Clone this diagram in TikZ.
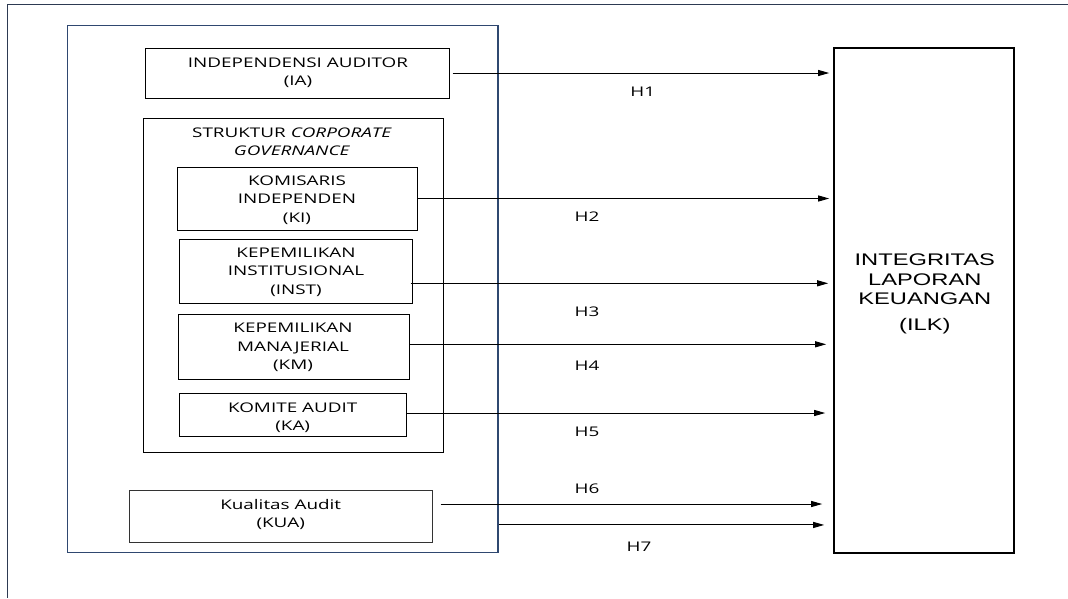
\documentclass[tikz,border=0pt]{standalone}
\usepackage{fontspec}
\setmainfont{Open Sans}[FakeStretch=1.42]
\newfontfamily\arialst{Liberation Sans}[FakeStretch=1.41]
\usetikzlibrary{arrows.meta}
\definecolor{navy}{RGB}{47,72,112}
\definecolor{framec}{RGB}{45,58,82}
\begin{document}
\begin{tikzpicture}[x=1pt,y=-1pt,
  box/.style={draw=black, line width=1pt, inner sep=0pt},
  txt/.style={inner sep=0pt, align=center, font=\fontsize{13.3}{18.3}\selectfont},
  hlab/.style={inner sep=0pt, font=\fontsize{13.3}{16}\selectfont},
  ilktxt/.style={inner sep=0pt, align=center, font=\arialst\fontsize{16.8}{19.5}\selectfont},
  arr/.style={draw=black, line width=1pt, -{Triangle[length=11pt,width=6pt]}}]
\useasboundingbox (0,0) rectangle (1068,598);
% page frame (top and left edges)
\coordinate (ftr) at (1068,4);
\coordinate (ftl) at (7.3,4);
\coordinate (fbl) at (7.3,598);
\draw[framec, line width=1pt] (ftr) -- (ftl) -- (fbl);
% outer group box
\node[draw=navy, line width=1.3pt, inner sep=0pt, minimum width=430.7pt, minimum height=527pt] (outer) at (282.65,289.2) {};
% boxes
\node[box, minimum width=304pt, minimum height=50pt] (ia) at (297,73) {};
\node[box, minimum width=300pt, minimum height=334.7pt] (scg) at (293,285.35) {};
\node[box, minimum width=240pt, minimum height=63pt] (ki) at (297,198.5) {};
\node[box, minimum width=233pt, minimum height=64pt] (inst) at (295.5,271) {};
\node[box, minimum width=231pt, minimum height=65pt] (km) at (293.5,346.5) {};
\node[box, minimum width=227pt, minimum height=43pt] (ka) at (292.5,414.5) {};
\node[box, draw=black!80, minimum width=303pt, minimum height=52pt] (kua) at (280.5,516) {};
\node[box, line width=1.6pt, minimum width=180pt, minimum height=505pt] (ilk) at (924,300.2) {};
% texts
\node[txt] (iat) at (298,72.5) {INDEPENDENSI AUDITOR\\(IA)};
\node[txt] (scgt) at (292,141.7) {STRUKTUR \textit{CORPORATE}\\\textit{GOVERNANCE}};
\node[txt] (kit) at (297,200.2) {KOMISARIS\\INDEPENDEN\\(KI)};
\node[txt] (instt) at (296,272.1) {KEPEMILIKAN\\INSTITUSIONAL\\(INST)};
\node[txt] (kmt) at (293,347.3) {KEPEMILIKAN\\MANAJERIAL\\(KM)};
\node[txt] (kat) at (292.7,417.4) {KOMITE AUDIT\\(KA)};
\node[txt] (kuat) at (280.7,514.6) {Kualitas Audit\\(KUA)};
\node[ilktxt] (ilkt) at (924.8,294) {INTEGRITAS\\LAPORAN\\KEUANGAN\\[6.5pt](ILK)};
% connectors
\draw[arr, shorten >=4pt] ([xshift=3pt]ia.east) coordinate (h1s) -- (h1s -| ilk.west);
\draw[arr, shorten >=4pt] (ki.east) coordinate (h2s) -- (h2s -| ilk.west);
\draw[arr, shorten >=5pt] ([xshift=-2pt,yshift=-12.3pt]inst.east) coordinate (h3s) -- (h3s -| ilk.west);
\draw[arr, shorten >=7pt] ([yshift=2.2pt]km.east) coordinate (h4s) -- (h4s -| ilk.west);
\draw[arr, shorten >=8pt] ([yshift=1.5pt]ka.east) coordinate (h5s) -- (h5s -| ilk.west);
\draw[arr, shorten >=11pt] ([xshift=8pt,yshift=12pt]kua.east) coordinate (h6s) -- (h6s -| ilk.west);
\draw[arr, shorten >=9pt] ([yshift=28.4pt]outer.south east) coordinate (h7s) -- (h7s -| ilk.west);
% hypothesis labels
\node[hlab] (lh1) at (642.7,91.7) {H1};
\node[hlab] (lh2) at (587,216.7) {H2};
\node[hlab] (lh3) at (587,311.7) {H3};
\node[hlab] (lh4) at (587,365.7) {H4};
\node[hlab] (lh5) at (587,431.7) {H5};
\node[hlab] (lh6) at (587,488.7) {H6};
\node[hlab] (lh7) at (639,547) {H7};
\end{tikzpicture}
\end{document}
